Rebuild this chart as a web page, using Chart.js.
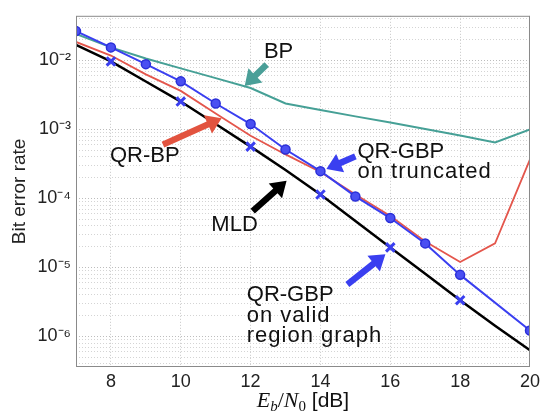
<!DOCTYPE html>
<html>
<head>
<meta charset="utf-8">
<script src="https://cdn.jsdelivr.net/npm/chart.js@4"></script>
<style>
  html, body { margin: 0; padding: 0; background: #fff; }
</style>
</head>
<body>
<canvas id="myChart" width="544" height="413"></canvas>
<script>
// Eb/N0 [dB]
var snr = [7, 8, 9, 10, 11, 12, 13, 14, 15, 16, 17, 18, 19, 20];
var bpBer   = [0.0242, 0.0155, 0.0107, 0.0077, 0.00556, 0.0040, 0.00238, 0.00192, 0.00155, 0.00126, 0.00102, 0.00082, 0.00065, 0.0010];
var qrbpBer = [0.0186, 0.0118, 0.0063, 0.00363, 0.00171, 0.00081, 0.000435, 0.000242, 0.000114, 0.0000556, 0.0000238, 0.000012, 0.0000223, 0.000369];
var mldBer  = [0.0169, 0.0097, 0.00496, 0.00254, 0.0012, 0.000565, 0.000258, 0.000114, 0.0000472, 0.0000195, 0.0000081, 0.00000335, 0.00000143, 0.00000063];

// QR-GBP on truncated (no point at 19 dB)
var truncSnr = [7, 8, 9, 10, 11, 12, 13, 14, 15, 16, 17, 18, 20];
var truncBer = [0.0267, 0.0155, 0.00886, 0.00499, 0.00238, 0.0012, 0.000512, 0.000249, 0.000107, 0.000052, 0.0000223, 0.0000078, 0.00000122];

// QR-GBP on valid region graph
var validSnr = [8, 10, 12, 14, 16, 18];
var validBer = [0.0097, 0.00254, 0.000565, 0.000114, 0.0000195, 0.00000335];

var xTicks = [8, 10, 12, 14, 16, 18, 20];
var yMin = 3.6e-7, yMax = 0.0445;
var supers = { '-': '\u207B', '0': '\u2070', '1': '\u00B9', '2': '\u00B2', '3': '\u00B3', '4': '\u2074', '5': '\u2075', '6': '\u2076', '7': '\u2077', '8': '\u2078', '9': '\u2079' };

// text labels and arrows, in data units
var notes = [
  { lines: ['BP'], x: 12.8, y: 0.01343, align: 'center' },
  { lines: ['QR-BP'], x: 8.97, y: 4.07e-4, align: 'center' },
  { lines: ['QR-GBP', 'on truncated'], x: 15.06, y: [4.65e-4, 2.42e-4], align: 'left' },
  { lines: ['MLD'], x: 11.54, y: 4.14e-5, align: 'center' },
  { lines: ['QR-GBP', 'on valid', 'region graph'], x: 11.89, y: [3.94e-6, 1.99e-6, 1.03e-6], align: 'left' }
];
var arrows = [
  { from: [12.46, 0.00877], to: [11.83, 0.00428], color: '#4a9f98' },
  { from: [9.49, 6.03e-4], to: [11.17, 1.456e-3], color: '#e2533f' },
  { from: [15.0, 4.07e-4], to: [14.17, 2.67e-4], color: '#3a3ff0' },
  { from: [12.06, 6.55e-5], to: [13.03, 1.80e-4], color: '#000000' },
  { from: [14.77, 5.65e-6], to: [15.86, 1.55e-5], color: '#3a3ff0' }
];

function pts(xs, ys) {
  return xs.map(function (x, i) { return { x: x, y: ys[i] }; });
}

function drawArrow(ctx, x1, y1, x2, y2, color) {
  var ang = Math.atan2(y2 - y1, x2 - x1);
  var len = Math.sqrt((x2 - x1) * (x2 - x1) + (y2 - y1) * (y2 - y1));
  var hl = 15, hw = 10, sw = 3.2;
  ctx.save();
  ctx.translate(x1, y1);
  ctx.rotate(ang);
  ctx.fillStyle = color;
  ctx.beginPath();
  ctx.moveTo(0, -sw);
  ctx.lineTo(len - hl, -sw);
  ctx.lineTo(len - hl, -hw);
  ctx.lineTo(len, 0);
  ctx.lineTo(len - hl, hw);
  ctx.lineTo(len - hl, sw);
  ctx.lineTo(0, sw);
  ctx.closePath();
  ctx.fill();
  ctx.restore();
}

var extras = {
  id: 'extras',
  afterDatasetsDraw: function (chart) {
    var ctx = chart.ctx, xs = chart.scales.x, ys = chart.scales.y, a = chart.chartArea;
    ctx.save();
    // frame
    ctx.strokeStyle = '#8a8a8a';
    ctx.lineWidth = 1;
    ctx.strokeRect(a.left + 0.5, a.top + 0.5, a.right - a.left - 1, a.bottom - a.top - 1);

    arrows.forEach(function (ar) {
      drawArrow(ctx, xs.getPixelForValue(ar.from[0]), ys.getPixelForValue(ar.from[1]),
        xs.getPixelForValue(ar.to[0]), ys.getPixelForValue(ar.to[1]), ar.color);
    });

    ctx.fillStyle = '#111';
    ctx.textBaseline = 'middle';
    notes.forEach(function (n) {
      ctx.textAlign = n.align;
      n.lines.forEach(function (t, i) {
        var yv = Array.isArray(n.y) ? n.y[i] : n.y;
        ctx.font = '22px "Liberation Sans", Arial, sans-serif';
        ctx.letterSpacing = /[a-z]/.test(t) ? '1px' : '0px';
        ctx.fillText(t, xs.getPixelForValue(n.x), ys.getPixelForValue(yv));
      });
    });
    ctx.letterSpacing = '0px';

    // x axis title: E_b / N_0 [dB]
    var parts = [
      { t: 'E', f: 'italic 22px "Liberation Serif", serif', dy: 0 },
      { t: 'b', f: 'italic 15px "Liberation Serif", serif', dy: 4 },
      { t: '/', f: '22px "Liberation Serif", serif', dy: 0 },
      { t: 'N', f: 'italic 22px "Liberation Serif", serif', dy: 0 },
      { t: '0', f: '15px "Liberation Serif", serif', dy: 4 },
      { t: ' [dB]', f: '21px "Liberation Sans", Arial, sans-serif', dy: 0 }
    ];
    var total = 0;
    parts.forEach(function (p) { ctx.font = p.f; p.w = ctx.measureText(p.t).width; total += p.w; });
    var cx = (a.left + a.right) / 2 - total / 2;
    var base = chart.height - 6;
    ctx.textAlign = 'left';
    ctx.textBaseline = 'alphabetic';
    parts.forEach(function (p) {
      ctx.font = p.f;
      ctx.fillText(p.t, cx, base + p.dy);
      cx += p.w;
    });
    ctx.restore();
  }
};

var ctx = document.getElementById('myChart').getContext('2d');
var myChart = new Chart(ctx, {
  type: 'line',
  data: {
    datasets: [{
      label: 'QR-GBP on valid region graph',
      data: pts(validSnr, validBer),
      showLine: false,
      borderColor: '#3a3ff0',
      backgroundColor: '#3a3ff0',
      pointStyle: 'crossRot',
      pointRadius: 6,
      pointBorderWidth: 3
    }, {
      label: 'QR-GBP on truncated',
      data: pts(truncSnr, truncBer),
      borderColor: '#3a3ff0',
      borderWidth: 2,
      backgroundColor: '#4a4ff2',
      pointBackgroundColor: '#4a4ff2',
      pointBorderColor: '#2a2fd8',
      pointStyle: 'circle',
      pointRadius: 4.5,
      pointBorderWidth: 1.5
    }, {
      label: 'MLD',
      data: pts(snr, mldBer),
      borderColor: '#000000',
      borderWidth: 2.5,
      pointRadius: 0
    }, {
      label: 'QR-BP',
      data: pts(snr, qrbpBer),
      borderColor: '#e4564c',
      borderWidth: 1.8,
      pointRadius: 0
    }, {
      label: 'BP',
      data: pts(snr, bpBer),
      borderColor: '#46a096',
      borderWidth: 2,
      pointRadius: 0
    }]
  },
  options: {
    responsive: false,
    animation: false,
    layout: { padding: { left: 0, right: 14, top: 8, bottom: 0 } },
    plugins: {
      legend: { display: false },
      tooltip: { enabled: false }
    },
    scales: {
      x: {
        type: 'linear',
        min: 7,
        max: 20,
        afterBuildTicks: function (scale) {
          scale.ticks = xTicks.map(function (v) { return { value: v }; });
        },
        afterFit: function (scale) { scale.height = 46; },
        ticks: {
          autoSkip: false,
          maxRotation: 0,
          padding: 4,
          color: '#222',
          font: { family: '"Liberation Sans", Arial, sans-serif', size: 18 }
        },
        grid: { color: '#c6c6c6', lineWidth: 1, drawTicks: false },
        border: { display: false, dash: [1, 2] }
      },
      y: {
        type: 'logarithmic',
        min: yMin,
        max: yMax,
        afterBuildTicks: function (scale) {
          var t = [];
          for (var e = -7; e <= -1; e++) {
            for (var m = 1; m <= 9; m++) {
              var v = m * Math.pow(10, e);
              if (v >= yMin && v <= yMax) t.push({ value: v, major: m === 1 });
            }
          }
          scale.ticks = t;
        },
        afterFit: function (scale) { scale.width = 76; },
        ticks: {
          autoSkip: false,
          padding: 5,
          color: '#222',
          font: { family: '"Liberation Sans", Arial, sans-serif', size: 18 },
          callback: function (value) {
            var e = Math.round(Math.log10(value));
            if (Math.abs(value / Math.pow(10, e) - 1) > 1e-6) return '';
            return '10' + String(e).split('').map(function (c) { return supers[c]; }).join('');
          }
        },
        grid: {
          drawTicks: false,
          lineWidth: 1,
          color: function (c) {
            return c.tick && c.tick.major ? '#bdbdbd' : '#d4d4d4';
          }
        },
        border: { display: false, dash: [1, 2] },
        title: {
          display: true,
          text: 'Bit error rate',
          color: '#222',
          font: { family: '"Liberation Sans", Arial, sans-serif', size: 19 },
          padding: { top: 8, bottom: 0 }
        }
      }
    }
  },
  plugins: [extras]
});
</script>
</body>
</html>
